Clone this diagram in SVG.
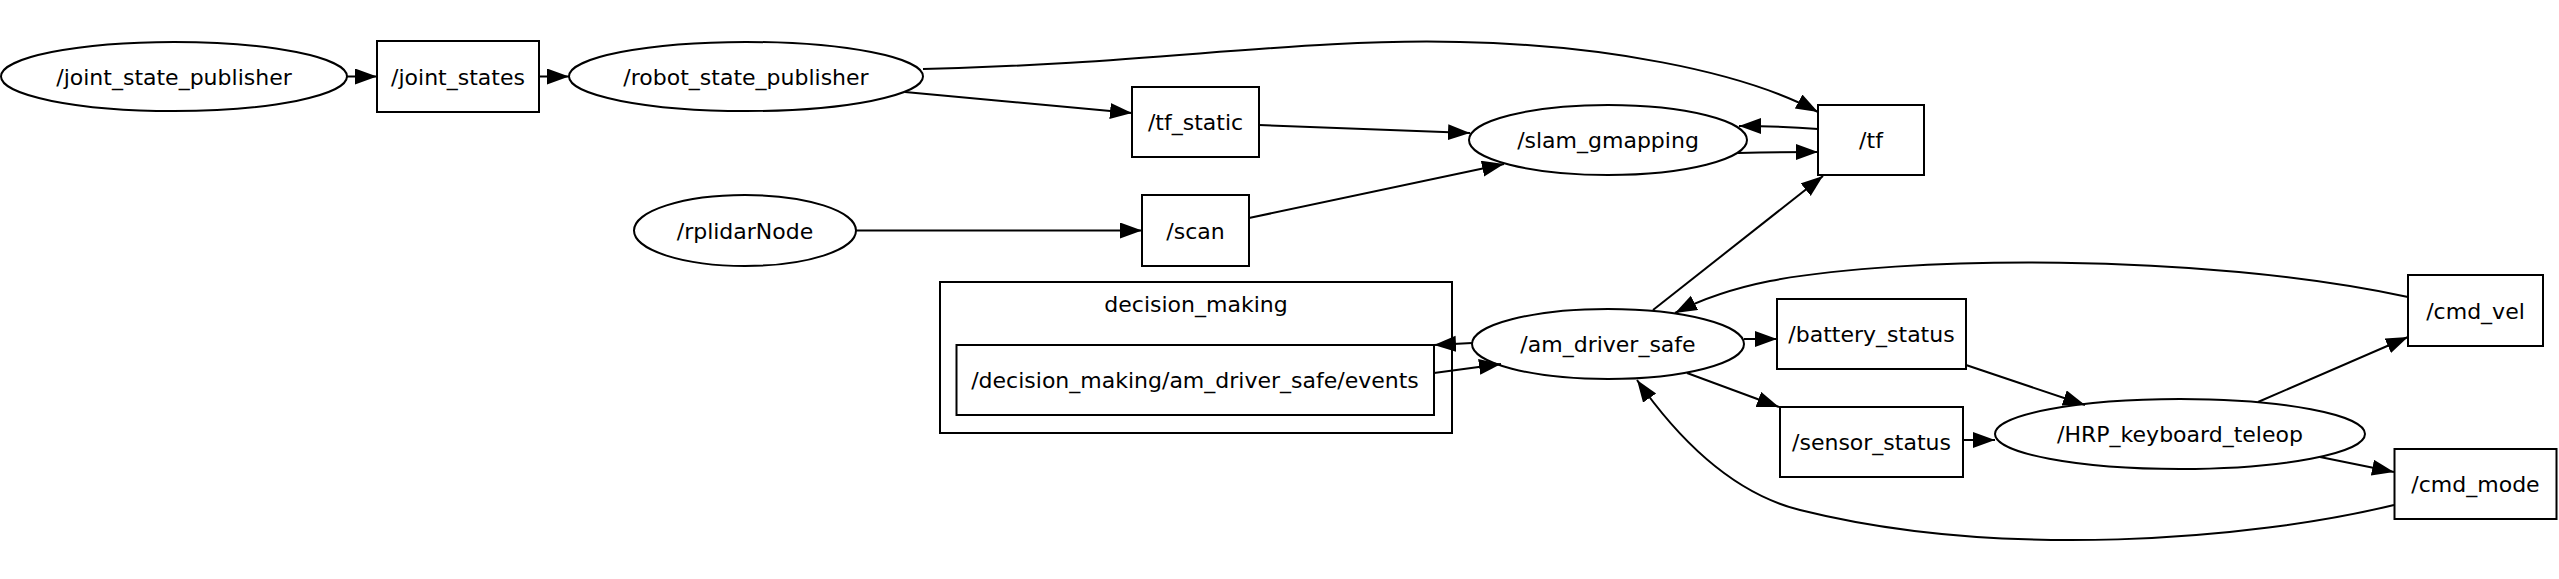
<svg xmlns="http://www.w3.org/2000/svg" width="2559" height="579" viewBox="0 0 2559 579">
<style>
.n{fill:none;stroke:#000;stroke-width:2}
.t{font-family:"DejaVu Sans",Verdana,sans-serif;font-size:22px;text-anchor:middle;fill:#000}
.e{fill:none;stroke:#000;stroke-width:2;marker-end:url(#ah)}
</style>
<defs>
<marker id="ah" markerUnits="userSpaceOnUse" markerWidth="24" markerHeight="18" refX="22" refY="8" orient="auto">
<path d="M0,0 L22,8 L0,16 z" fill="#000"/>
</marker>
</defs>
<rect width="2559" height="579" fill="#fff"/>
<g id="connectors">
<path class="e" d="M347,76.5 L377,76.5"/>
<path class="e" d="M539,76.5 L569,76.5"/>
<path class="e" d="M905,92 L1132,113"/>
<path class="e" d="M923,69 C1150,64 1300,38 1460,42 C1600,45 1740,70 1818,112"/>
<path class="e" d="M1259,125 L1470,133"/>
<path class="e" d="M856,230.5 L1142,230.5"/>
<path class="e" d="M1249,218 L1504,164"/>
<path class="e" d="M1818,129 C1795,127 1770,126 1739,126"/>
<path class="e" d="M1738,153 C1760,152.5 1790,152 1818,152"/>
<path class="e" d="M1653,310 L1823,176"/>
<path class="e" d="M1472,343 L1434,345"/>
<path class="e" d="M1434,373 L1501,364"/>
<path class="e" d="M1744,339 L1777,339"/>
<path class="e" d="M1687,373 L1779,407"/>
<path class="e" d="M1966,365 L2085,405"/>
<path class="e" d="M1963,440 L1995,440"/>
<path class="e" d="M2258,402 L2408,337"/>
<path class="e" d="M2320,457 L2394,472"/>
<path class="e" d="M2408,297 C2200,252 1900,256 1770,281 C1735,288 1700,300 1675,313"/>
<path class="e" d="M2394,505 C2250,540 2000,560 1800,510 C1720,490 1665,420 1637,380"/>
</g>
<g id="node_joint_state_publisher"><ellipse class="n" cx="174" cy="76.5" rx="173" ry="34.5"/><text class="t" x="174" y="84.5">/joint_state_publisher</text></g>
<g id="node_joint_states"><rect class="n" x="377" y="41" width="162" height="71"/><text class="t" x="458" y="84.5">/joint_states</text></g>
<g id="node_robot_state_publisher"><ellipse class="n" cx="746" cy="76.5" rx="177" ry="34.5"/><text class="t" x="746" y="84.5">/robot_state_publisher</text></g>
<g id="node_tf_static"><rect class="n" x="1132" y="87" width="127" height="70"/><text class="t" x="1195.5" y="130">/tf_static</text></g>
<g id="node_slam_gmapping"><ellipse class="n" cx="1608" cy="140" rx="139" ry="35"/><text class="t" x="1608" y="148">/slam_gmapping</text></g>
<g id="node_tf"><rect class="n" x="1818" y="105" width="106" height="70"/><text class="t" x="1871" y="148">/tf</text></g>
<g id="node_rplidarNode"><ellipse class="n" cx="745" cy="230.5" rx="111" ry="35.5"/><text class="t" x="745" y="238.5">/rplidarNode</text></g>
<g id="node_scan"><rect class="n" x="1142" y="195" width="107" height="71"/><text class="t" x="1195.5" y="238.5">/scan</text></g>
<g id="cluster_decision_making"><rect class="n" x="940" y="282" width="512" height="151"/><text class="t" x="1196" y="312">decision_making</text></g>
<g id="node_events"><rect class="n" x="956.5" y="345" width="477.5" height="70"/><text class="t" x="1195" y="388">/decision_making/am_driver_safe/events</text></g>
<g id="node_am_driver_safe"><ellipse class="n" cx="1608" cy="344" rx="136" ry="35"/><text class="t" x="1608" y="352">/am_driver_safe</text></g>
<g id="node_battery_status"><rect class="n" x="1777" y="299" width="189" height="70"/><text class="t" x="1871.5" y="342">/battery_status</text></g>
<g id="node_sensor_status"><rect class="n" x="1780" y="407" width="183" height="70"/><text class="t" x="1871.5" y="450">/sensor_status</text></g>
<g id="node_HRP_keyboard_teleop"><ellipse class="n" cx="2180" cy="434" rx="185" ry="35"/><text class="t" x="2180" y="442">/HRP_keyboard_teleop</text></g>
<g id="node_cmd_vel"><rect class="n" x="2408" y="275" width="135" height="71"/><text class="t" x="2475.5" y="318.5">/cmd_vel</text></g>
<g id="node_cmd_mode"><rect class="n" x="2394.5" y="449" width="162" height="70"/><text class="t" x="2475.5" y="492">/cmd_mode</text></g>
</svg>
